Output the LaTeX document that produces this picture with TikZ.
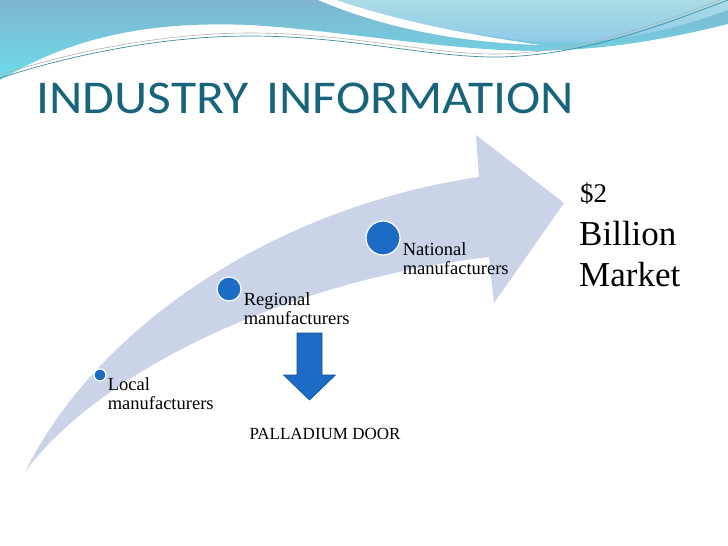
\documentclass[tikz,border=0pt]{standalone}
\usepackage{fontspec}
\setmainfont{Liberation Serif}
\newfontfamily\titlefont{Carlito}
\usetikzlibrary{positioning,calc}

\definecolor{steel}{RGB}{127,181,207}
\definecolor{aqua}{RGB}{108,221,235}
\definecolor{pale}{RGB}{170,220,229}
\definecolor{skyb}{RGB}{140,200,234}
\definecolor{thread}{RGB}{60,140,160}
\definecolor{titleteal}{RGB}{24,100,124}
\definecolor{swoop}{RGB}{202,211,232}
\definecolor{dotblue}{RGB}{28,107,196}

\begin{document}
\begin{tikzpicture}[x=1pt,y=-1pt,
  dot/.style={circle,fill=dotblue,draw=white,line width=1.2pt,inner sep=0pt},
  lbl/.style={anchor=north west,align=left,inner sep=0pt,
    font=\fontsize{18.5}{19}\selectfont},
  big/.style={anchor=base west,inner sep=0pt,font=\fontsize{35}{35}\selectfont}]
  \useasboundingbox (0,0) rectangle (728,546);
  \fill[white] (0,0) rectangle (728,546);

  % top band
  \shade[top color=steel,bottom color=aqua]
    (0,0) -- (728,0) -- (728,24) .. controls (680,36) and (620,48) .. (560,50)
    .. controls (480,56) and (340,30) .. (250,25)
    .. controls (130,20) and (60,45) .. (0,80) -- cycle;
  \shade[top color=pale,bottom color=skyb]
    (336,0) .. controls (390,18) and (450,32) .. (520,40)
    .. controls (590,48) and (660,35) .. (728,10) -- (728,0) -- cycle;
  \fill[white] (318,0) -- (336,0) .. controls (390,18) and (450,32) .. (540,45)
    .. controls (450,42) and (380,26) .. (318,0) -- cycle;
  \draw[thread,line width=0.7pt] (0,78) .. controls (80,52) and (170,36) .. (250,36)
    .. controls (350,36) and (430,58) .. (500,57) .. controls (580,55) and (650,30) .. (728,0);
  \draw[gray!60,line width=0.6pt] (0,75) .. controls (80,49) and (170,33) .. (250,33)
    .. controls (350,33) and (430,55) .. (500,54) .. controls (580,52) and (650,27) .. (728,-3);

  \node[anchor=base west,inner sep=0pt,text=titleteal,
    font=\titlefont\fontsize{47}{47}\selectfont] (title) at (36,113)
    {\scalebox{1.1}[1]{INDUSTRY\hspace{16pt}INFORMATION}};

  % curved arrow
  \coordinate (T) at (25,472);
  \coordinate (U) at (479,177);
  \coordinate (L) at (489,257);
  \fill[swoop] (T) .. controls (95,330) and (270,208) .. (U) -- (476,135)
    -- (564,203) -- (494,303) -- (L) .. controls (290,280) and (100,370) .. (T) -- cycle;

  \node[dot,minimum size=12pt] (local) at (100,375) {};
  \node[dot,minimum size=24pt] (regional) at (229,289) {};
  \node[dot,minimum size=34pt] (national) at (383,238) {};

  \node[lbl] (locallbl) at ([shift={(1,2)}]local.east) {Local\\manufacturers};
  \node[lbl] (regionallbl) at ([shift={(2,3)}]regional.east) {Regional\\manufacturers};
  \node[lbl] (nationallbl) at ([shift={(2,4)}]national.east) {National\\manufacturers};

  \node[anchor=base west,inner sep=0pt,font=\fontsize{27}{27}\selectfont] (dollar)
    at (580,202) {\$2};
  \node[big] (billion) at (579,245) {Billion};
  \node[big] (market) at (579,286) {Market};

  % down arrow
  \coordinate (D) at (309.5,333);
  \filldraw[fill=dotblue,draw=dotblue!75!black,line width=0.6pt]
    (D) +(-12.5,0) -- +(12.5,0) -- +(12.5,42) -- +(26,42) -- +(0,67)
    -- +(-26,42) -- +(-12.5,42) -- cycle;
  \node[anchor=base,inner sep=0pt,font=\fontsize{17}{17}\selectfont] (door)
    at (325,439) {PALLADIUM DOOR};
\end{tikzpicture}
\end{document}
